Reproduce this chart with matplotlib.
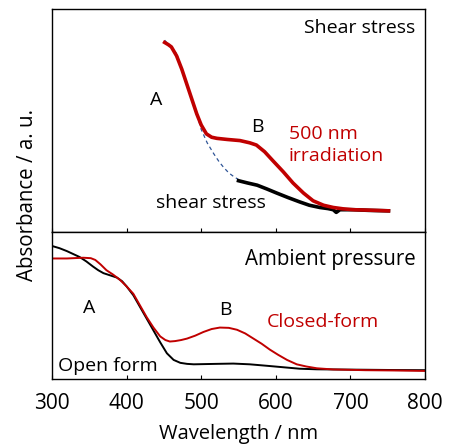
import matplotlib.pyplot as plt
import numpy as np

plt.rcParams['font.family'] = ['Open Sans', 'DejaVu Sans']

# top panel (shear stress), absorbance in arbitrary units
wl_irr = [451, 456, 460, 467, 474, 480, 487, 494, 500, 507, 514, 521, 535, 552, 565, 574, 585, 596, 610, 623, 637, 650, 664, 677, 690, 704, 725, 751]
ab_irr = [0.85, 0.84, 0.83, 0.79, 0.73, 0.67, 0.60, 0.53, 0.48, 0.44, 0.425, 0.42, 0.415, 0.41, 0.40, 0.39, 0.36, 0.32, 0.27, 0.22, 0.175, 0.14, 0.12, 0.11, 0.104, 0.10, 0.098, 0.095]

wl_shear = [550, 562, 575, 588, 601, 616, 632, 645, 659, 670, 677, 681, 686, 704, 725, 751]
ab_shear = [0.23, 0.22, 0.21, 0.193, 0.175, 0.155, 0.135, 0.12, 0.11, 0.105, 0.10, 0.088, 0.10, 0.10, 0.097, 0.095]

wl_dash = [451, 467, 480, 494, 500, 508, 517, 524, 530, 537, 543, 550]
ab_dash = [0.86, 0.80, 0.67, 0.53, 0.46, 0.40, 0.35, 0.315, 0.29, 0.265, 0.25, 0.235]

# bottom panel (ambient pressure)
wl_open = [300, 310, 320, 337, 346, 355, 362, 369, 378, 387, 394, 400, 409, 418, 427, 436, 445, 454, 463, 472, 481, 490, 520, 543, 565, 588, 610, 632, 655, 677, 720, 760, 800]
ab_open = [0.905, 0.89, 0.87, 0.83, 0.80, 0.765, 0.74, 0.72, 0.705, 0.69, 0.665, 0.63, 0.57, 0.49, 0.41, 0.33, 0.25, 0.175, 0.13, 0.11, 0.103, 0.10, 0.103, 0.105, 0.10, 0.09, 0.08, 0.07, 0.066, 0.065, 0.063, 0.061, 0.06]

wl_closed = [300, 320, 342, 352, 358, 365, 373, 382, 391, 400, 409, 418, 427, 436, 445, 452, 458, 465, 473, 481, 492, 503, 514, 525, 537, 548, 559, 570, 581, 592, 603, 615, 628, 641, 655, 677, 720, 760, 800]
ab_closed = [0.82, 0.82, 0.825, 0.822, 0.81, 0.78, 0.74, 0.71, 0.675, 0.63, 0.58, 0.50, 0.42, 0.35, 0.29, 0.265, 0.255, 0.258, 0.265, 0.275, 0.295, 0.32, 0.34, 0.35, 0.348, 0.335, 0.31, 0.275, 0.24, 0.20, 0.165, 0.13, 0.10, 0.085, 0.073, 0.065, 0.06, 0.058, 0.055]

xticks = [300, 400, 500, 600, 700, 800]

red = '#c00000'
fig = plt.figure(figsize=(4.53, 4.46), dpi=100)
ax1 = fig.add_axes([0.1148, 0.4798, 0.8234, 0.5])
ax2 = fig.add_axes([0.1148, 0.1502, 0.8234, 0.3296])

ax1.plot(wl_dash, ab_dash, color='#2f5597', lw=0.9, ls=(0, (3, 2.5)), zorder=1)
ax1.plot(wl_irr, ab_irr, color=red, lw=2.6, zorder=3)
ax1.plot(wl_shear, ab_shear, color='black', lw=2.6, zorder=2)

ax2.plot(wl_open, ab_open, color='black', lw=1.4)
ax2.plot(wl_closed, ab_closed, color=red, lw=1.4)

for ax in (ax1, ax2):
    ax.set_xlim(300, 800)
    ax.set_ylim(0, 1)
    ax.set_yticks([])
    ax.set_xticks(xticks)
    ax.tick_params(axis='x', direction='in', length=3, width=0.8)
    for s in ax.spines.values():
        s.set_linewidth(1.0)

ax1.tick_params(axis='x', labelbottom=False)
ax2.tick_params(axis='x', labelsize=15, pad=10)
ax2.set_xlabel('Wavelength / nm', fontsize=14.5, labelpad=7)
fig.text(0.06, 0.5617, 'Absorbance / a. u.', rotation=90, fontsize=14.8,
         ha='center', va='center')

fs = 14
ax1.text(0.975, 0.915, 'Shear stress', transform=ax1.transAxes, ha='right', va='center', fontsize=fs)
ax1.text(0.28, 0.59, 'A', transform=ax1.transAxes, ha='center', va='center', fontsize=fs)
ax1.text(0.55, 0.47, 'B', transform=ax1.transAxes, ha='center', va='center', fontsize=fs)
ax1.text(0.635, 0.39, '500 nm\nirradiation', transform=ax1.transAxes, ha='left', va='center',
         fontsize=fs, color=red, linespacing=1.25)
ax1.text(0.28, 0.13, 'shear stress', transform=ax1.transAxes, ha='left', va='center', fontsize=fs)

ax2.text(0.975, 0.81, 'Ambient pressure', transform=ax2.transAxes, ha='right', va='center', fontsize=14.8)
ax2.text(0.1, 0.48, 'A', transform=ax2.transAxes, ha='center', va='center', fontsize=fs)
ax2.text(0.465, 0.47, 'B', transform=ax2.transAxes, ha='center', va='center', fontsize=fs)
ax2.text(0.575, 0.39, 'Closed-form', transform=ax2.transAxes, ha='left', va='center', fontsize=fs, color=red)
ax2.text(0.015, 0.09, 'Open form', transform=ax2.transAxes, ha='left', va='center', fontsize=fs)

fig.savefig('out.png', dpi=100)
